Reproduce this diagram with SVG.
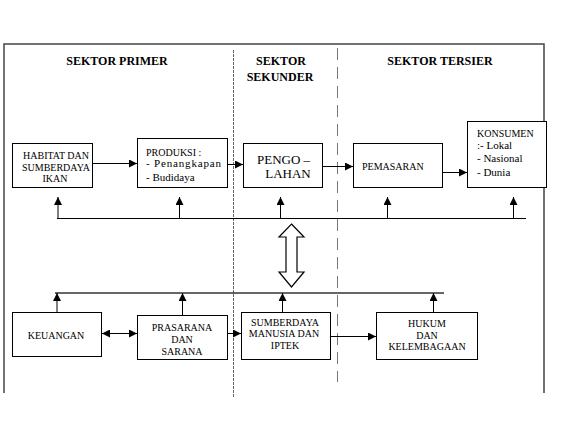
<svg xmlns="http://www.w3.org/2000/svg" width="567" height="426" viewBox="0 0 567 426">
<defs>
<marker id="ah" viewBox="0 0 10 10" refX="10" refY="5" markerWidth="9" markerHeight="8" markerUnits="userSpaceOnUse" orient="auto-start-reverse">
<path d="M0,0 L10,5 L0,10 Z" fill="#000"/>
</marker>
</defs>
<rect width="567" height="426" fill="#fff"/>
<g id="frame">
<path d="M4,393 V44 H544 V393" fill="none" stroke="#444" stroke-width="1.5"/>
<line x1="233.5" y1="50" x2="233.5" y2="398" stroke="#666" stroke-width="1" stroke-dasharray="3 1"/>
<line x1="337.5" y1="48" x2="337.5" y2="382" stroke="#777" stroke-width="1" stroke-dasharray="12 7"/>
<text font-family="Liberation Serif" font-size="12" font-weight="bold" text-anchor="middle" x="117" y="65">SEKTOR PRIMER</text>
<text font-family="Liberation Serif" font-size="12" font-weight="bold" text-anchor="middle" x="281" y="65">SEKTOR</text>
<text font-family="Liberation Serif" font-size="12" font-weight="bold" text-anchor="middle" x="280" y="81">SEKUNDER</text>
<text font-family="Liberation Serif" font-size="12" font-weight="bold" text-anchor="middle" x="440" y="65">SEKTOR TERSIER</text>
</g>
<g id="connectors" fill="none" stroke="#000" stroke-width="1">
<line x1="93" y1="163.5" x2="137" y2="163.5" marker-end="url(#ah)"/>
<line x1="228" y1="164.5" x2="243" y2="164.5" marker-end="url(#ah)"/>
<line x1="323" y1="166.5" x2="353" y2="166.5" marker-end="url(#ah)"/>
<line x1="443" y1="172.5" x2="467" y2="172.5" marker-end="url(#ah)"/>
<line x1="57" y1="218.5" x2="526" y2="218.5"/>
<line x1="58" y1="218.5" x2="58" y2="197" marker-end="url(#ah)"/>
<line x1="179.5" y1="218.5" x2="179.5" y2="197" marker-end="url(#ah)"/>
<line x1="280.5" y1="218.5" x2="280.5" y2="197" marker-end="url(#ah)"/>
<line x1="387.5" y1="218.5" x2="387.5" y2="197" marker-end="url(#ah)"/>
<line x1="513.5" y1="218.5" x2="513.5" y2="197" marker-end="url(#ah)"/>
<polygon points="291.5,224 304,237 297,237 297,272 304,272 291.5,287 279,272 286,272 286,237 279,237" fill="#fff" stroke-width="1.2"/>
<line x1="55" y1="293" x2="444" y2="293" stroke="#333" stroke-width="1.6"/>
<line x1="57" y1="312" x2="57" y2="293" marker-end="url(#ah)"/>
<line x1="182.5" y1="315" x2="182.5" y2="293" marker-end="url(#ah)"/>
<line x1="282.5" y1="312" x2="282.5" y2="293" marker-end="url(#ah)"/>
<line x1="433.5" y1="312" x2="433.5" y2="293" marker-end="url(#ah)"/>
<line x1="102" y1="333.5" x2="137" y2="333.5" marker-start="url(#ah)" marker-end="url(#ah)"/>
<line x1="228" y1="333.5" x2="241" y2="333.5" marker-end="url(#ah)"/>
<line x1="331" y1="336.5" x2="376" y2="336.5" marker-end="url(#ah)"/>
</g>
<g id="habitat">
<rect x="12.5" y="143.5" width="80" height="44" fill="#fff" stroke="#000"/>
<text font-family="Liberation Serif" font-size="10" text-anchor="middle" x="56" y="158.5">HABITAT DAN</text>
<text font-family="Liberation Serif" font-size="10" text-anchor="middle" x="56" y="170.5">SUMBERDAYA</text>
<text font-family="Liberation Serif" font-size="10" text-anchor="middle" x="55" y="182">IKAN</text>
</g>
<g id="produksi">
<rect x="137.5" y="138.5" width="90" height="49" fill="#fff" stroke="#000"/>
<text font-family="Liberation Serif" font-size="10" x="146" y="155.5">PRODUKSI :</text>
<text font-family="Liberation Serif" font-size="11" x="146" y="167" textLength="75" lengthAdjust="spacing">- Penangkapan</text>
<text font-family="Liberation Serif" font-size="11" x="146" y="181">- Budidaya</text>
</g>
<g id="pengolahan">
<rect x="243.5" y="143.5" width="79" height="44" fill="#fff" stroke="#000"/>
<text font-family="Liberation Serif" font-size="13" x="257" y="164">PENGO –</text>
<text font-family="Liberation Serif" font-size="13" text-anchor="middle" x="288" y="178">LAHAN</text>
</g>
<g id="pemasaran">
<rect x="353.5" y="143.5" width="89" height="44" fill="#fff" stroke="#000"/>
<text font-family="Liberation Serif" font-size="10" x="362" y="170">PEMASARAN</text>
</g>
<g id="konsumen">
<rect x="467.5" y="121.5" width="79" height="66" fill="#fff" stroke="#000"/>
<text font-family="Liberation Serif" font-size="10" x="477" y="137">KONSUMEN</text>
<text font-family="Liberation Serif" font-size="11" x="477" y="149">:- Lokal</text>
<text font-family="Liberation Serif" font-size="11" x="477" y="162">- Nasional</text>
<text font-family="Liberation Serif" font-size="11" x="477" y="176">- Dunia</text>
</g>
<g id="keuangan">
<rect x="12.5" y="312.5" width="89" height="44" fill="#fff" stroke="#000"/>
<text font-family="Liberation Serif" font-size="10" text-anchor="middle" x="56" y="338.5">KEUANGAN</text>
</g>
<g id="prasarana">
<rect x="137.5" y="315.5" width="90" height="44" fill="#fff" stroke="#000"/>
<text font-family="Liberation Serif" font-size="10" text-anchor="middle" x="182" y="330.5">PRASARANA</text>
<text font-family="Liberation Serif" font-size="10" text-anchor="middle" x="182" y="342.5">DAN</text>
<text font-family="Liberation Serif" font-size="10" text-anchor="middle" x="182" y="354.5">SARANA</text>
</g>
<g id="sdm">
<rect x="241.5" y="312.5" width="89" height="47" fill="#fff" stroke="#000"/>
<text font-family="Liberation Serif" font-size="10" text-anchor="middle" x="285" y="325.5">SUMBERDAYA</text>
<text font-family="Liberation Serif" font-size="10" text-anchor="middle" x="284" y="336.5">MANUSIA DAN</text>
<text font-family="Liberation Serif" font-size="10" text-anchor="middle" x="285" y="348.5">IPTEK</text>
</g>
<g id="hukum">
<rect x="376.5" y="312.5" width="101" height="47" fill="#fff" stroke="#000"/>
<text font-family="Liberation Serif" font-size="10" text-anchor="middle" x="427" y="326.5">HUKUM</text>
<text font-family="Liberation Serif" font-size="10" text-anchor="middle" x="427" y="338.5">DAN</text>
<text font-family="Liberation Serif" font-size="10" text-anchor="middle" x="427" y="349.5">KELEMBAGAAN</text>
</g>
</svg>
